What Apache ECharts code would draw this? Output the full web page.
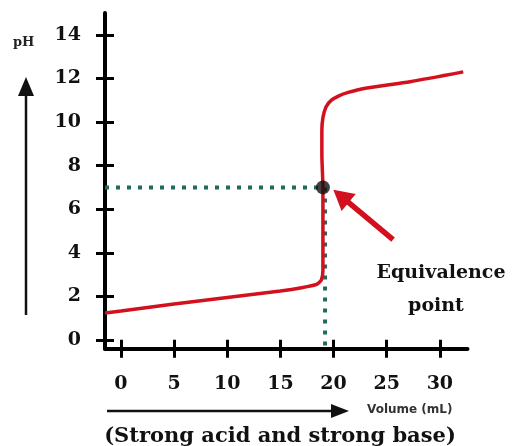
<!DOCTYPE html>
<html>
<head>
<meta charset="utf-8">
<script src="https://cdn.jsdelivr.net/npm/echarts@6/dist/echarts.min.js"></script>
<style>html,body{margin:0;padding:0;background:#fff}#c{width:515px;height:446px}</style>
</head>
<body>
<div id="c"></div>
<script>
// ---- data ----
var volume = [-1.5, 0, 5, 10, 15, 17, 18.4, 18.85, 19.0, 19.0, 18.9, 18.9, 19.0, 19.3, 19.8, 20.5, 21.3, 23, 27.2, 32.2];
var pH     = [1.24, 1.33, 1.65, 1.95, 2.25, 2.4, 2.55, 2.75, 3.2, 7, 8.5, 9.6, 10.2, 10.7, 11.0, 11.2, 11.35, 11.55, 11.85, 12.3];
var equivalencePoint = [19.0, 7];
var xTicks = [0, 5, 10, 15, 20, 25, 30];
var yTicks = [0, 2, 4, 6, 8, 10, 12, 14];
var xRange = [-1.5, 32.6];
var yRange = [-0.4, 15];
var arrowTail = [25.6, 4.6];
var arrowHead = [20.7, 6.6];

var curve = volume.map(function (v, i) { return [v, pH[i]]; });
var serif = 'DejaVu Serif';
var RED = '#d3101e';
var TEAL = '#1f6b5c';

function axisPair(dim, ticks, range) {
  var pos = dim === 'x' ? 'bottom' : 'left';
  var base = {
    type: 'value', min: range[0], max: range[1], position: pos,
    splitLine: { show: false }
  };
  var main = Object.assign({}, base, {
    axisLine: { show: true, onZero: false, lineStyle: { color: '#000', width: 4 } },
    axisTick: { show: true, inside: false, length: 9, customValues: ticks, lineStyle: { color: '#000', width: 3 } },
    axisLabel: { show: true, customValues: ticks, margin: dim === 'x' ? 26 : 24,
      color: '#111', fontFamily: serif, fontWeight: 'bold', fontSize: 19 }
  });
  var inner = Object.assign({}, base, {
    axisLine: { show: false, onZero: false },
    axisTick: { show: true, inside: true, length: 9, customValues: ticks, lineStyle: { color: '#000', width: 3 } },
    axisLabel: { show: false }
  });
  return [main, inner];
}

var chart = echarts.init(document.getElementById('c'));
chart.setOption({
  animation: false,
  grid: { left: 105, right: 47.5, top: 13, bottom: 97.3, containLabel: false },
  xAxis: axisPair('x', xTicks, xRange),
  yAxis: axisPair('y', yTicks, yRange),
  series: [
    { type: 'line', data: [[xRange[0], equivalencePoint[1]], equivalencePoint], symbol: 'none', silent: true,
      lineStyle: { color: TEAL, width: 4, type: [4, 7] }, z: 2 },
    { type: 'line', data: [[equivalencePoint[0] + 0.2, equivalencePoint[1]], [equivalencePoint[0] + 0.2, yRange[0]]], symbol: 'none', silent: true,
      lineStyle: { color: TEAL, width: 4, type: [4, 7] }, z: 2 },
    { type: 'line', data: curve, symbol: 'none', smooth: 0.2, silent: true,
      lineStyle: { color: RED, width: 3.5 }, z: 3 },
    { type: 'scatter', data: [equivalencePoint], symbol: 'circle', symbolSize: 14, silent: true,
      itemStyle: { color: '#111' }, z: 5,
      markLine: {
        silent: true, symbol: ['none', 'triangle'], symbolSize: [22, 20],
        label: { show: false },
        lineStyle: { color: RED, width: 5.5, type: 'solid' },
        data: [[{ coord: arrowTail }, { coord: arrowHead }]]
      }
    }
  ],
  graphic: [
    { type: 'text', x: 13, y: 36, style: { text: 'pH', font: 'bold 13px "DejaVu Serif"', fill: '#222' } },
    { type: 'line', shape: { x1: 26, y1: 315, x2: 26, y2: 92 }, style: { stroke: '#111', lineWidth: 2.5 } },
    { type: 'polygon', shape: { points: [[26, 77], [18, 96], [34, 96]] }, style: { fill: '#111' } },
    { type: 'line', shape: { x1: 107, y1: 411, x2: 335, y2: 411 }, style: { stroke: '#111', lineWidth: 2.5 } },
    { type: 'polygon', shape: { points: [[349, 411], [331, 404], [331, 418]] }, style: { fill: '#111' } },
    { type: 'text', x: 367, y: 404, style: { text: 'Volume (mL)', font: 'bold 12px "DejaVu Sans"', fill: '#333' } },
    { type: 'text', x: 441, y: 273, style: { text: 'Equivalence', font: 'bold 19px "DejaVu Serif"', fill: '#111', align: 'center', verticalAlign: 'middle' } },
    { type: 'text', x: 436, y: 306, style: { text: 'point', font: 'bold 19px "DejaVu Serif"', fill: '#111', align: 'center', verticalAlign: 'middle' } },
    { type: 'text', x: 280, y: 437, style: { text: '(Strong acid and strong base)', font: 'bold 21px "DejaVu Serif"', fill: '#111', align: 'center', verticalAlign: 'middle' } }
  ]
});
</script>
</body>
</html>
